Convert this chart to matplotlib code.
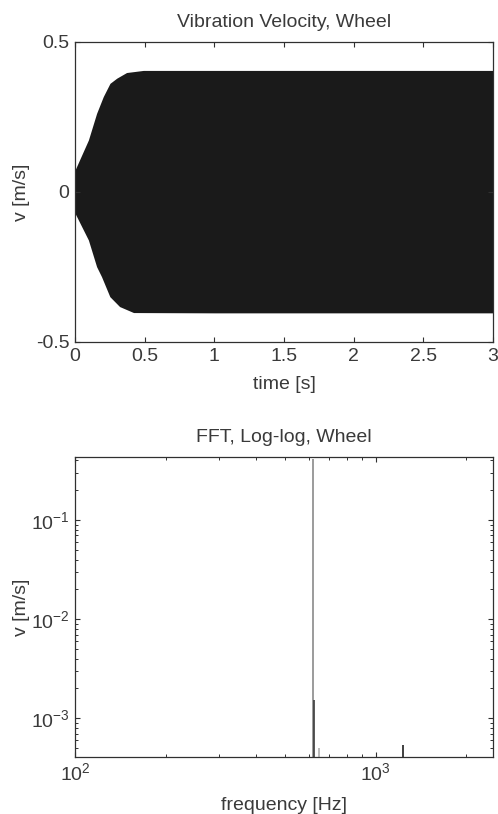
import matplotlib
matplotlib.use("Agg")
import matplotlib.pyplot as plt
import numpy as np
from matplotlib.ticker import FixedLocator, LogLocator, NullFormatter

plt.rcParams['font.family'] = ['Liberation Sans', 'DejaVu Sans']
plt.rcParams['mathtext.fontset'] = 'custom'
plt.rcParams['mathtext.rm'] = 'Liberation Sans'
plt.rcParams['mathtext.it'] = 'Liberation Sans'
plt.rcParams['mathtext.default'] = 'regular'

# envelope of the wheel vibration velocity
env_time = [0.0, 0.096, 0.155, 0.203, 0.251, 0.299, 0.37, 0.49, 1.0, 2.0, 3.0]
env_upper = [0.073, 0.173, 0.262, 0.318, 0.362, 0.379, 0.398, 0.405, 0.405, 0.405, 0.405]
env_lower_time = [0.0, 0.096, 0.155, 0.19, 0.25, 0.32, 0.42, 1.0, 2.0, 3.0]
env_lower = [-0.071, -0.16, -0.249, -0.282, -0.349, -0.382, -0.402, -0.403, -0.403, -0.403]

# FFT peaks
fft_freq = [620, 622, 649, 1235]
fft_amp = [0.41, 1.53e-3, 5.0e-4, 5.4e-4]
fft_color = ['#8a8a8a', '#3a3a3a', '#b0b0b0', '#202020']

FS = 14
TXT = '#3a3a3a'

fig = plt.figure(figsize=(4.98, 8.14), dpi=100)
ax1 = fig.add_axes([0.1506, 0.5799, 0.8394, 0.3686])
ax2 = fig.add_axes([0.1506, 0.0700, 0.8394, 0.3686])

# top panel: time signal envelope
tt = np.union1d(env_time, env_lower_time)
ax1.fill_between(tt, np.interp(tt, env_lower_time, env_lower),
                 np.interp(tt, env_time, env_upper), color='#1a1a1a', lw=0)
ax1.set_xlim(0, 3)
ax1.set_ylim(-0.5, 0.5)
ax1.set_xticks([0, 0.5, 1, 1.5, 2, 2.5, 3])
ax1.set_xticklabels(['0', '0.5', '1', '1.5', '2', '2.5', '3'])
ax1.set_yticks([-0.5, 0, 0.5])
ax1.set_yticklabels(['-0.5', '0', '0.5'])
ax1.set_title('Vibration Velocity, Wheel', fontsize=FS, color=TXT, pad=11)
ax1.set_xlabel('time [s]', fontsize=FS, color=TXT, labelpad=8)
ax1.set_ylabel('v [m/s]', fontsize=FS, color=TXT)

# bottom panel: log-log spectrum
for f, a, c in zip(fft_freq, fft_amp, fft_color):
    ax2.vlines(f, 1e-6, a, color=c, lw=1.2)
ax2.set_xscale('log')
ax2.set_yscale('log')
ax2.set_xlim(100, 2450)
ax2.set_ylim(4.07e-4, 0.433)
ax2.xaxis.set_major_locator(FixedLocator([100, 1000]))
ax2.set_xticklabels([r'$10^2$', r'$10^3$'])
ax2.xaxis.set_minor_locator(LogLocator(base=10, subs=np.arange(2, 10)))
ax2.xaxis.set_minor_formatter(NullFormatter())
ax2.yaxis.set_major_locator(FixedLocator([1e-3, 1e-2, 1e-1]))
ax2.set_yticklabels([r'$10^{-3}$', r'$10^{-2}$', r'$10^{-1}$'])
ax2.yaxis.set_minor_locator(LogLocator(base=10, subs=np.arange(2, 10)))
ax2.yaxis.set_minor_formatter(NullFormatter())
ax2.set_title('FFT, Log-log, Wheel', fontsize=FS, color=TXT, pad=11)
ax2.set_xlabel('frequency [Hz]', fontsize=FS, color=TXT, labelpad=9)
ax2.set_ylabel('v [m/s]', fontsize=FS, color=TXT)

for ax in (ax1, ax2):
    for s in ax.spines.values():
        s.set_color('#303030')
        s.set_linewidth(0.9)
    ax.tick_params(which='both', direction='in', top=True, right=True,
                   labelsize=FS, labelcolor=TXT, color='#303030')
    ax.tick_params(which='major', length=3.5, width=0.8, pad=4)
    ax.tick_params(which='minor', length=2, width=0.7)
    ax.yaxis.set_label_coords(-0.108, 0.5)

fig.savefig('out.png', dpi=100)
